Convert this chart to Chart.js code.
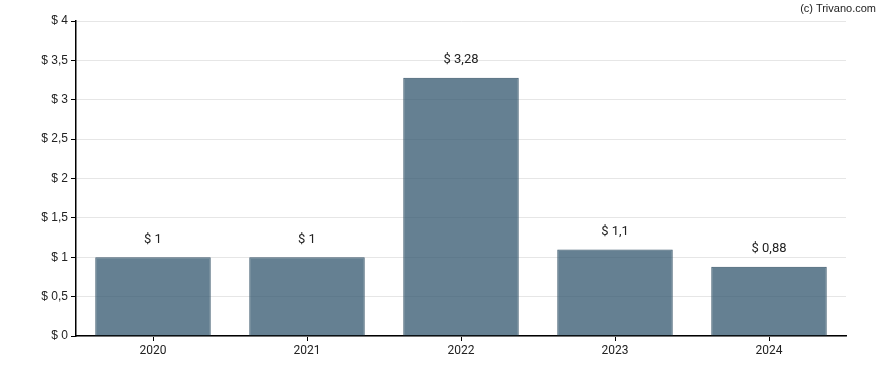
<!DOCTYPE html>
<html>
<head>
<meta charset="utf-8">
<script src="https://cdn.jsdelivr.net/npm/chart.js@4"></script>
<style>
  html, body { margin: 0; padding: 0; background: #fff; }
  #wrap { position: relative; width: 888px; height: 370px; }
  #credit { position: absolute; right: 12px; top: 2px; font: 11px "Liberation Sans", Arial, sans-serif; color: #222; }
</style>
</head>
<body>
<div id="wrap">
  <canvas id="chart" width="888" height="370"></canvas>
  <div id="credit">(c) Trivano.com</div>
</div>
<script>
const years = ['2020', '2021', '2022', '2023', '2024'];
const dividends = [1, 1, 3.28, 1.1, 0.88];
const yTicks = [0, 0.5, 1, 1.5, 2, 2.5, 3, 3.5, 4];

const fmt = v => '$ ' + String(v).replace('.', ',');

// labels above each bar
const valueLabels = {
  id: 'valueLabels',
  afterDatasetsDraw(chart) {
    const ctx = chart.ctx;
    const meta = chart.getDatasetMeta(0);
    ctx.save();
    ctx.font = '13px Roboto';
    ctx.fillStyle = '#222';
    ctx.textAlign = 'center';
    ctx.textBaseline = 'middle';
    meta.data.forEach((bar, i) => {
      ctx.fillText(fmt(dividends[i]), bar.x, bar.y - 18);
    });
    ctx.restore();
  }
};

new Chart(document.getElementById('chart'), {
  type: 'bar',
  data: {
    labels: years,
    datasets: [{
      data: dividends,
      backgroundColor: 'rgba(50, 85, 110, 0.75)',
      borderColor: '#3e5a6e',
      borderWidth: 1,
      barPercentage: 0.75,
      categoryPercentage: 1
    }]
  },
  options: {
    responsive: false,
    animation: false,
    layout: { padding: { top: 21, right: 42, left: 0, bottom: 0 } },
    plugins: { legend: { display: false }, tooltip: { enabled: false } },
    scales: {
      x: {
        grid: {
          display: true,
          offset: false,
          drawOnChartArea: false,
          tickColor: '#000',
          tickLength: 5
        },
        border: { color: '#000', width: 1.5 },
        ticks: { color: '#222', font: { family: 'Roboto', size: 12 }, padding: 3 },
        afterFit(scale) { scale.height = 34; }
      },
      y: {
        min: 0,
        max: 4,
        afterBuildTicks(scale) { scale.ticks = yTicks.map(v => ({ value: v })); },
        grid: {
          color: '#e6e6e6',
          tickColor: '#000',
          tickLength: 5,
          drawOnChartArea: true
        },
        border: { color: '#000', width: 1.5 },
        ticks: {
          color: '#222',
          font: { family: 'Liberation Sans', size: 12 },
          padding: 3,
          callback: v => fmt(v)
        },
        afterFit(scale) { scale.width = 76; }
      }
    }
  },
  plugins: [valueLabels]
});
</script>
</body>
</html>
